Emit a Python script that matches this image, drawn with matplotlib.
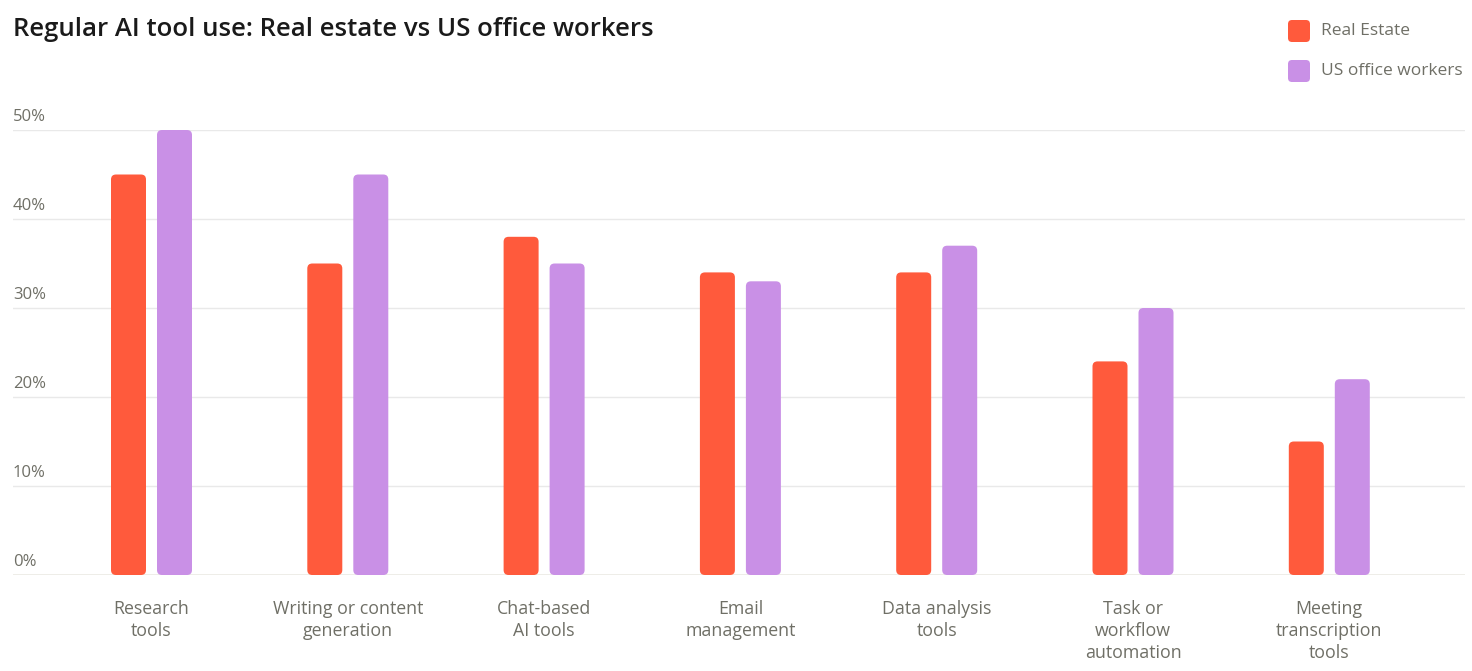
import matplotlib.pyplot as plt
from matplotlib.patches import FancyBboxPatch

categories = ['Research\ntools', 'Writing or content\ngeneration', 'Chat-based\nAI tools',
              'Email\nmanagement', 'Data analysis\ntools', 'Task or\nworkflow\nautomation',
              'Meeting\ntranscription\ntools']
real_estate = [45, 35, 38, 34, 34, 24, 15]
office_workers = [50, 45, 35, 33, 37, 30, 22]
y_ticks = [0, 10, 20, 30, 40, 50]
series_names = ['Real Estate', 'US office workers']

RED = '#ff5a3c'
PURPLE = '#c990e6'
GREY = '#6f6f66'

plt.rcParams['font.family'] = ['Open Sans', 'DejaVu Sans']

W, H = 1472, 671
fig = plt.figure(figsize=(W / 100, H / 100), dpi=100)
ax_left, ax_right = 13 / W, 1465 / W
ax_bottom, ax_top = 1 - 575 / H, 1 - 130 / H
ax = fig.add_axes([ax_left, ax_bottom, ax_right - ax_left, ax_top - ax_bottom])

unit_x = 196.3  # px between groups
x0 = -138.5 / unit_x
ax.set_xlim(x0, x0 + (1465 - 13) / unit_x)
ax.set_ylim(0, 50)
px_y = (575 - 130) / 50.0

bw = 35 / unit_x
off = 23 / unit_x
r_px = 5
aspect = (r_px / px_y) / (r_px / unit_x)

def rbar(x, h, color):
    p = FancyBboxPatch((x - bw / 2, 0), bw, h,
                       boxstyle=f'round,pad=0,rounding_size={r_px / unit_x}',
                       mutation_aspect=aspect, facecolor=color, edgecolor='none',
                       clip_on=False, zorder=3)
    ax.add_patch(p)

for i, (a, b) in enumerate(zip(real_estate, office_workers)):
    rbar(i - off, a, RED)
    rbar(i + off, b, PURPLE)

# gridlines and tick labels sitting above them
for t in y_ticks:
    ax.axhline(t, color='#ecebe6' if t == 0 else '#e9e9e9',
               lw=2.0 if t == 0 else 1.0, zorder=1)
    ax.text(x0, t + 5 / px_y, f'{t}%', ha='left', va='bottom',
            fontsize=12, color=GREY, zorder=4)

for s in ax.spines.values():
    s.set_visible(False)
ax.set_xticks(range(len(categories)))
ax.set_xticklabels(categories, fontsize=12.8, color=GREY, linespacing=1.3)
ax.tick_params(axis='x', length=0, pad=18)
ax.set_yticks([])

fig.text(13 / W, 1 - 30 / H, 'Regular AI tool use: Real estate vs US office workers',
         ha='left', va='center', fontsize=18.5, fontweight='semibold', color='#1a1a1a')

# legend
for k, (name, c) in enumerate(zip(series_names, [RED, PURPLE])):
    yc = 31 + 40 * k
    sq = FancyBboxPatch((1288 / W, 1 - (yc + 11) / H), 22 / W, 22 / H,
                        boxstyle=f'round,pad=0,rounding_size={4 / W}',
                        mutation_aspect=W / H, transform=fig.transFigure,
                        facecolor=c, edgecolor='none')
    fig.patches.append(sq)
    fig.text(1321 / W, 1 - yc / H, name, ha='left', va='center',
             fontsize=12.5, color=GREY)

fig.savefig('out.png', dpi=100, facecolor='white')
